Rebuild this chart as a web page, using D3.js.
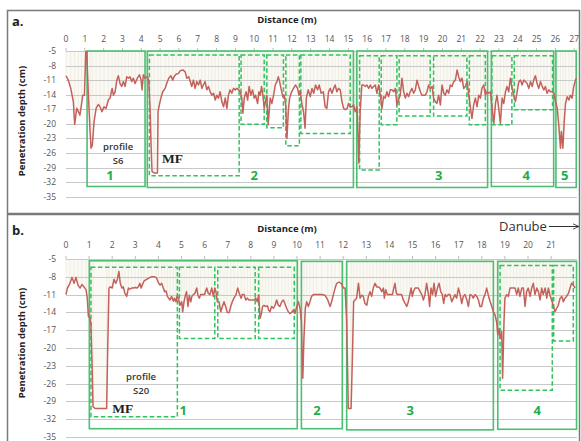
<html>
<script src="https://cdn.jsdelivr.net/npm/d3@7/dist/d3.min.js"></script>
<style>
  body { margin: 0; background: #fff; }
  text { font-family: "Open Sans", "Noto Sans", sans-serif; }
</style>
<svg id="chart" width="581" height="441"></svg>

<script>
// penetration depth (cm) against distance (m)
var profileS6 = [
  [0,-10.1],[0.12,-11.0],[0.25,-12.7],[0.39,-15.4],[0.46,-20.1],[0.57,-16.8],[0.66,-17.5],[0.74,-18.2],[0.82,-16.1],[0.89,-14.1],
  [0.98,-14.1],[1.05,-5.1],[1.10,-5.1],[1.19,-14.1],[1.28,-21.6],[1.33,-25.0],[1.40,-24.4],[1.49,-19.6],[1.60,-16.8],[1.72,-16.0],
  [1.81,-16.5],[1.91,-17.5],[2.02,-16.5],[2.13,-16.8],[2.25,-15.1],[2.34,-14.7],[2.45,-12.7],[2.52,-14.1],[2.61,-13.4],[2.70,-11.0],
  [2.78,-10.1],[2.87,-11.7],[2.96,-12.3],[3.05,-11.3],[3.14,-12.3],[3.23,-10.3],[3.32,-10.6],[3.40,-10.3],[3.49,-11.3],[3.58,-10.6],
  [3.67,-11.7],[3.79,-10.6],[3.90,-9.9],[3.99,-11.0],[4.04,-13.0],[4.11,-9.9],[4.20,-10.6],[4.33,-10.3],[4.40,-11.3],[4.47,-17.5],
  [4.52,-24.4],[4.57,-29.8],[4.68,-30.1],[4.86,-30.1],[4.89,-17.5],[4.96,-16.1],[5.04,-14.7],[5.14,-13.4],[5.27,-12.7],[5.35,-11.7],
  [5.46,-10.6],[5.57,-10.1],[5.67,-11.0],[5.74,-10.3],[5.85,-9.8],[5.98,-9.6],[6.06,-9.1],[6.21,-8.9],[6.33,-9.3],[6.42,-10.6],
  [6.52,-10.3],[6.60,-11.3],[6.68,-12.3],[6.77,-11.0],[6.86,-12.7],[6.95,-11.3],[7.04,-12.0],[7.13,-11.0],[7.22,-12.7],[7.30,-12.0],
  [7.39,-11.3],[7.48,-13.0],[7.57,-12.3],[7.66,-13.4],[7.75,-14.1],[7.84,-13.7],[7.93,-15.1],[8.01,-14.1],[8.10,-14.7],[8.19,-13.4],
  [8.28,-15.4],[8.37,-16.5],[8.46,-14.7],[8.55,-16.8],[8.63,-14.1],[8.72,-13.0],[8.81,-13.7],[8.90,-12.7],[8.99,-13.0],[9.08,-12.7],
  [9.17,-13.0],[9.26,-13.4],[9.34,-14.7],[9.40,-17.8],[9.47,-14.7],[9.57,-13.4],[9.65,-15.1],[9.73,-12.3],[9.82,-14.1],[9.91,-13.0],
  [10.00,-14.7],[10.07,-14.1],[10.18,-15.8],[10.25,-13.4],[10.32,-14.1],[10.39,-12.3],[10.46,-14.1],[10.53,-16.8],[10.60,-15.4],[10.67,-14.1],
  [10.74,-20.2],[10.85,-14.7],[10.94,-15.8],[11.03,-14.1],[11.12,-12.0],[11.21,-11.3],[11.28,-10.3],[11.35,-11.3],[11.42,-12.7],[11.52,-14.4],
  [11.60,-14.1],[11.67,-16.1],[11.74,-23.0],[11.81,-17.5],[11.88,-14.7],[11.99,-13.4],[12.09,-12.7],[12.20,-12.0],[12.30,-12.7],[12.38,-14.1],
  [12.45,-13.4],[12.54,-16.1],[12.62,-17.5],[12.70,-20.9],[12.77,-14.7],[12.87,-13.0],[12.98,-14.4],[13.07,-12.7],[13.16,-13.7],[13.26,-12.0],
  [13.37,-13.0],[13.45,-12.0],[13.56,-13.7],[13.67,-13.4],[13.77,-16.5],[13.86,-16.8],[13.95,-13.4],[14.04,-12.7],[14.13,-13.7],[14.22,-12.7],
  [14.30,-12.0],[14.39,-13.4],[14.48,-12.7],[14.57,-13.0],[14.66,-15.4],[14.75,-16.8],[14.84,-17.1],[14.94,-16.8],[15.01,-15.8],[15.10,-16.5],
  [15.19,-16.5],[15.28,-16.1],[15.37,-17.5],[15.46,-16.5],[15.51,-21.6],[15.56,-28.1],[15.63,-17.5],[15.72,-12.0],[15.81,-12.0],[15.90,-12.3],
  [15.99,-12.0],[16.08,-12.7],[16.17,-12.0],[16.25,-12.7],[16.34,-12.3],[16.43,-12.0],[16.52,-13.7],[16.61,-12.0],[16.70,-14.1],[16.79,-16.8],
  [16.87,-14.4],[16.96,-14.7],[17.05,-13.4],[17.14,-14.4],[17.23,-13.0],[17.32,-13.0],[17.41,-13.4],[17.50,-12.7],[17.58,-16.1],[17.67,-15.1],
  [17.76,-14.1],[17.85,-10.6],[17.94,-13.4],[18.03,-14.7],[18.12,-13.7],[18.20,-14.4],[18.29,-13.4],[18.38,-12.7],[18.47,-13.7],[18.56,-13.0],
  [18.65,-11.0],[18.74,-12.3],[18.83,-13.4],[18.91,-14.1],[19.00,-14.1],[19.09,-14.1],[19.18,-13.4],[19.27,-12.0],[19.36,-12.7],[19.45,-12.3],
  [19.53,-14.7],[19.62,-15.4],[19.71,-15.8],[19.80,-14.1],[19.89,-16.1],[19.98,-12.0],[20.07,-13.7],[20.15,-14.1],[20.24,-13.0],[20.33,-13.7],
  [20.42,-12.0],[20.51,-12.3],[20.60,-11.3],[20.69,-11.0],[20.78,-8.9],[20.86,-10.3],[20.95,-11.3],[21.04,-10.6],[21.13,-12.7],[21.22,-12.3],
  [21.31,-11.3],[21.40,-14.1],[21.48,-16.5],[21.57,-18.9],[21.66,-16.1],[21.75,-14.7],[21.84,-16.5],[21.93,-14.1],[22.02,-14.7],[22.10,-12.7],
  [22.19,-12.0],[22.28,-14.1],[22.37,-13.4],[22.46,-13.7],[22.55,-13.4],[22.64,-16.8],[22.73,-19.9],[22.82,-15.8],[22.90,-14.1],[22.99,-16.8],
  [23.08,-19.9],[23.17,-14.7],[23.26,-15.8],[23.35,-13.4],[23.43,-12.3],[23.52,-13.4],[23.61,-10.6],[23.70,-12.7],[23.79,-14.1],[23.88,-15.4],
  [23.97,-13.4],[24.06,-11.3],[24.15,-11.0],[24.23,-12.0],[24.32,-11.0],[24.41,-11.3],[24.50,-11.7],[24.59,-12.7],[24.68,-11.3],[24.77,-12.3],
  [24.85,-11.0],[24.94,-10.1],[25.03,-11.7],[25.12,-12.7],[25.21,-11.3],[25.30,-12.3],[25.39,-13.0],[25.47,-12.3],[25.56,-13.7],[25.65,-13.0],
  [25.74,-13.4],[25.83,-13.4],[25.92,-13.7],[26.01,-15.4],[26.10,-16.8],[26.18,-20.2],[26.27,-25.0],[26.32,-21.6],[26.40,-25.0],[26.47,-19.6],
  [26.54,-15.8],[26.63,-14.4],[26.72,-15.1],[26.80,-14.1],[26.89,-14.7],[26.98,-12.3],[27.07,-11.0],[27.13,-10.6]
];

var profileS20 = [
  [0,-11.0],[0.06,-9.9],[0.17,-9.1],[0.26,-8.1],[0.35,-9.1],[0.43,-8.1],[0.52,-9.4],[0.61,-9.9],[0.69,-9.3],[0.78,-9.7],
  [0.87,-10.2],[0.92,-11.6],[0.97,-14.7],[1.04,-15.0],[1.08,-16.1],[1.13,-22.9],[1.17,-29.9],[1.26,-30.2],[1.76,-30.2],[1.80,-21.2],
  [1.86,-9.9],[1.93,-9.7],[2.00,-9.9],[2.08,-8.4],[2.15,-9.1],[2.22,-8.5],[2.29,-7.1],[2.35,-9.1],[2.42,-9.9],[2.48,-9.7],
  [2.55,-10.8],[2.63,-11.3],[2.70,-9.9],[2.77,-10.1],[2.84,-9.9],[2.91,-9.9],[2.99,-9.8],[3.06,-9.9],[3.13,-9.7],[3.20,-9.1],
  [3.25,-9.9],[3.30,-9.4],[3.38,-8.7],[3.46,-8.5],[3.55,-8.3],[3.64,-8.1],[3.72,-8.0],[3.81,-8.0],[3.90,-8.1],[3.95,-8.5],
  [4.01,-9.1],[4.07,-9.4],[4.14,-9.1],[4.21,-9.9],[4.27,-10.5],[4.33,-10.4],[4.39,-11.3],[4.44,-11.6],[4.50,-11.9],[4.57,-11.3],
  [4.65,-12.1],[4.70,-11.6],[4.76,-12.2],[4.82,-11.1],[4.88,-11.9],[4.94,-12.8],[5.01,-12.2],[5.05,-13.9],[5.11,-12.2],[5.17,-11.1],
  [5.22,-10.5],[5.28,-13.0],[5.34,-11.1],[5.40,-12.2],[5.45,-11.3],[5.51,-11.0],[5.58,-10.8],[5.66,-9.9],[5.71,-11.1],[5.77,-11.6],
  [5.83,-11.0],[5.92,-11.0],[6.00,-11.0],[6.09,-9.9],[6.16,-10.8],[6.23,-11.0],[6.31,-9.9],[6.38,-11.3],[6.44,-9.9],[6.49,-10.5],
  [6.55,-12.2],[6.62,-12.2],[6.70,-13.9],[6.77,-13.0],[6.84,-12.2],[6.91,-13.0],[6.98,-14.0],[7.07,-14.0],[7.13,-13.0],[7.20,-12.2],
  [7.27,-11.6],[7.36,-11.0],[7.43,-9.9],[7.50,-10.8],[7.58,-11.6],[7.63,-11.0],[7.71,-11.0],[7.78,-11.9],[7.85,-11.6],[7.92,-11.9],
  [7.99,-11.9],[8.07,-11.9],[8.14,-11.9],[8.21,-11.6],[8.28,-12.2],[8.34,-11.1],[8.40,-15.0],[8.46,-14.2],[8.51,-13.0],[8.57,-12.8],
  [8.64,-13.0],[8.72,-12.9],[8.77,-13.6],[8.83,-13.9],[8.90,-13.0],[8.98,-13.3],[9.05,-12.8],[9.12,-11.9],[9.19,-12.8],[9.26,-13.0],
  [9.34,-12.2],[9.41,-11.9],[9.48,-12.6],[9.55,-13.3],[9.62,-13.9],[9.70,-14.2],[9.77,-14.0],[9.84,-13.6],[9.91,-14.2],[9.99,-13.0],
  [10.06,-12.2],[10.13,-13.3],[10.19,-15.6],[10.25,-25.1],[10.30,-18.4],[10.36,-13.3],[10.42,-12.2],[10.49,-13.0],[10.56,-12.2],[10.63,-11.3],
  [10.71,-11.0],[10.78,-11.0],[10.85,-11.0],[10.92,-11.0],[11.07,-11.0],[11.21,-11.1],[11.33,-11.9],[11.43,-13.0],[11.50,-12.2],[11.57,-11.1],
  [11.65,-9.9],[11.72,-9.1],[11.82,-8.9],[11.91,-9.1],[12.01,-9.9],[12.08,-9.9],[12.15,-15.6],[12.22,-30.2],[12.34,-30.2],[12.40,-21.2],
  [12.45,-12.2],[12.51,-11.9],[12.58,-11.6],[12.66,-9.1],[12.73,-11.6],[12.80,-11.1],[12.87,-11.3],[12.94,-12.5],[13.02,-12.8],[13.09,-11.3],
  [13.16,-10.5],[13.23,-11.3],[13.30,-9.9],[13.38,-9.1],[13.45,-9.7],[13.52,-9.7],[13.59,-9.9],[13.67,-10.5],[13.74,-9.9],[13.78,-11.6],
  [13.84,-10.2],[13.91,-11.0],[13.98,-11.0],[14.06,-11.0],[14.13,-11.0],[14.19,-9.9],[14.24,-9.1],[14.30,-10.8],[14.36,-11.0],[14.42,-11.0],
  [14.47,-11.0],[14.53,-11.0],[14.60,-11.9],[14.68,-12.5],[14.75,-13.0],[14.82,-12.2],[14.88,-11.0],[14.94,-9.9],[14.99,-11.3],[15.05,-10.4],
  [15.11,-9.9],[15.18,-9.9],[15.25,-9.9],[15.33,-10.5],[15.40,-11.0],[15.47,-11.9],[15.54,-11.0],[15.61,-9.1],[15.69,-11.0],[15.74,-13.0],
  [15.80,-9.9],[15.87,-11.0],[15.93,-9.1],[16.00,-11.3],[16.08,-9.9],[16.15,-9.1],[16.22,-10.5],[16.29,-11.0],[16.35,-12.5],[16.41,-11.0],
  [16.48,-11.3],[16.55,-11.0],[16.62,-11.0],[16.70,-12.2],[16.77,-11.6],[16.84,-11.0],[16.91,-11.6],[16.99,-9.9],[17.06,-11.0],[17.13,-12.5],
  [17.20,-11.3],[17.27,-11.0],[17.35,-11.9],[17.42,-13.0],[17.49,-11.0],[17.56,-11.1],[17.63,-11.6],[17.71,-11.0],[17.78,-11.3],[17.85,-11.9],
  [17.92,-13.0],[17.99,-13.0],[18.07,-11.6],[18.14,-11.0],[18.21,-9.9],[18.28,-11.1],[18.36,-12.2],[18.43,-13.0],[18.50,-13.9],[18.57,-14.4],
  [18.64,-15.6],[18.69,-17.8],[18.74,-16.7],[18.80,-18.4],[18.86,-17.2],[18.90,-25.1],[18.96,-15.6],[19.00,-11.6],[19.08,-11.0],[19.15,-11.3],
  [19.22,-9.9],[19.29,-9.9],[19.37,-9.9],[19.44,-9.9],[19.51,-11.0],[19.58,-9.9],[19.65,-11.3],[19.73,-9.9],[19.80,-9.9],[19.87,-13.0],
  [19.94,-10.5],[20.01,-9.9],[20.09,-11.3],[20.16,-9.9],[20.23,-9.1],[20.30,-11.0],[20.38,-9.9],[20.45,-10.5],[20.52,-11.9],[20.59,-9.9],
  [20.66,-11.0],[20.74,-9.9],[20.81,-11.6],[20.88,-9.9],[20.95,-11.1],[21.02,-11.9],[21.10,-13.0],[21.17,-13.9],[21.24,-13.3],[21.31,-12.8],
  [21.39,-11.6],[21.46,-11.3],[21.53,-12.2],[21.60,-11.6],[21.67,-11.3],[21.75,-10.8],[21.82,-9.9],[21.89,-9.1],[21.96,-9.4],[22.04,-9.9]
];

var depthTicks = [-5, -8, -11, -14, -17, -20, -23, -26, -29, -32, -35];
var distTicksA = d3.range(0, 28);
var distTicksB = d3.range(0, 22);

// zones [from m, to m, top cm, bottom cm]
var zonesA = [
  [1.12, 4.2, -5, -32.9], [4.32, 15.27, -5, -33.1], [15.45, 22.4, -5, -33.1],
  [22.6, 25.91, -5, -32.9], [26.03, 27.11, -5, -33.1]
];
var subZonesA = [
  [4.43, 9.2, -5.8, -30.7], [9.3, 10.53, -5.8, -20.1], [10.67, 11.55, -5.8, -20.8], [11.68, 12.4, -5.8, -24.5],
  [12.48, 15.1, -5.8, -22.0], [15.6, 16.64, -6.0, -29.5], [16.75, 17.58, -6.0, -20.2], [17.7, 19.35, -6.0, -18.4],
  [19.53, 21.3, -6.0, -18.4], [21.43, 22.28, -6.0, -20.2], [22.63, 23.69, -6.0, -20.2], [23.82, 25.85, -6.0, -17.1]
];
var zonesB = [
  [1.01, 10.01, -5.3, -33.6], [10.19, 11.96, -5.4, -33.6], [12.15, 18.5, -5.4, -33.8], [18.69, 22.1, -5.4, -33.7]
];
var subZonesB = [
  [1.08, 4.82, -6.4, -31.6], [4.91, 6.44, -6.4, -18.4], [6.57, 8.19, -6.4, -18.4], [8.34, 9.88, -6.4, -18.4],
  [18.79, 21.05, -6.1, -27.1], [21.11, 21.96, -6.1, -18.8]
];

var svg = d3.select("#chart");
var green = "#4cbf73", greenDash = "#2fc45c", labelGreen = "#1fae48";

// frames
svg.append("rect").attr("x", 7.5).attr("y", 10.5).attr("width", 572).attr("height", 203)
  .attr("fill", "none").attr("stroke", "#7a7a7a").attr("stroke-width", 1.5);
svg.append("rect").attr("x", 7.5).attr("y", 214.5).attr("width", 572).attr("height", 240)
  .attr("fill", "none").attr("stroke", "#7a7a7a").attr("stroke-width", 1.5);

function drawPanel(p) {
  var x = d3.scaleLinear().domain(p.xDomain).range([66, 577]);
  var y = d3.scaleLinear().domain([-5, -35]).range(p.yRange);
  var g = svg.append("g");

  // fill between the surface and the measured depth
  g.append("path").datum(p.data)
    .attr("d", d3.area().x(d => x(d[0])).y0(y(-5)).y1(d => y(d[1])))
    .attr("fill", "#faf9f4");
  g.selectAll(".stripe").data(p.data.filter((d, i) => i % 2 == 0)).enter().append("line")
    .attr("x1", d => x(d[0])).attr("x2", d => x(d[0]))
    .attr("y1", y(-5)).attr("y2", d => y(d[1]))
    .attr("stroke", "#e9e6da").attr("stroke-width", 0.6);

  // grid + y labels
  g.selectAll(".grid").data(depthTicks).enter().append("line")
    .attr("x1", 66).attr("x2", 577)
    .attr("y1", d => Math.round(y(d)) + 0.5).attr("y2", d => Math.round(y(d)) + 0.5)
    .attr("stroke", "#c8c8c8");
  g.selectAll(".ylab").data(depthTicks).enter().append("text")
    .attr("x", 56).attr("y", d => y(d) + 3)
    .attr("text-anchor", "end").attr("font-size", 8.5).attr("fill", "#555")
    .text(d => d);

  // top distance axis
  g.selectAll(".tick").data(p.ticks).enter().append("line")
    .attr("x1", d => x(d)).attr("x2", d => x(d))
    .attr("y1", y(-5) - 3).attr("y2", y(-5))
    .attr("stroke", "#bbb");
  g.selectAll(".xlab").data(p.ticks).enter().append("text")
    .attr("x", d => x(d)).attr("y", p.tickY)
    .attr("text-anchor", "middle").attr("font-size", 8.5).attr("fill", "#555")
    .text(d => d);

  g.append("text").attr("x", 287).attr("y", p.titleY)
    .attr("text-anchor", "middle").attr("font-size", 9.5).attr("font-weight", "bold").attr("fill", "#222")
    .text("Distance (m)");
  g.append("text").attr("x", 12).attr("y", p.titleY + 3)
    .attr("font-size", 13).attr("font-weight", "bold").attr("fill", "#222")
    .text(p.letter);
  g.append("text")
    .attr("transform", "translate(25," + p.yTitleMid + ") rotate(-90)")
    .attr("text-anchor", "middle").attr("font-size", 9.5).attr("font-weight", "bold").attr("fill", "#222")
    .text("Penetration depth (cm)");

  // zone boxes
  g.selectAll(".sub").data(p.subZones).enter().append("rect")
    .attr("x", d => x(d[0])).attr("y", d => y(d[2]))
    .attr("width", d => x(d[1]) - x(d[0])).attr("height", d => y(d[3]) - y(d[2]))
    .attr("fill", "none").attr("stroke", greenDash).attr("stroke-width", 1.5)
    .attr("stroke-dasharray", "4.5,2.5");
  g.selectAll(".zone").data(p.zones).enter().append("rect")
    .attr("x", d => x(d[0])).attr("y", d => y(d[2]))
    .attr("width", d => x(d[1]) - x(d[0])).attr("height", d => y(d[3]) - y(d[2]))
    .attr("fill", "none").attr("stroke", green).attr("stroke-width", 1.6);

  // measured profile
  g.append("path").datum(p.data)
    .attr("d", d3.line().x(d => x(d[0])).y(d => y(d[1])))
    .attr("fill", "none").attr("stroke", "#c4615a").attr("stroke-width", 1.5)
    .attr("stroke-linejoin", "round");

  // zone numbers
  g.selectAll(".znum").data(p.labels).enter().append("text")
    .attr("x", d => x(d[0])).attr("y", d => y(d[1]))
    .attr("text-anchor", "middle").attr("font-size", 13).attr("font-weight", "bold").attr("fill", labelGreen)
    .text(d => d[2]);

  g.append("text").attr("x", x(p.profileAt[0])).attr("y", y(p.profileAt[1]))
    .attr("text-anchor", "middle").attr("font-size", 9.5).attr("font-weight", 600).attr("fill", "#333")
    .text("profile");
  g.append("text").attr("x", x(p.profileAt[0])).attr("y", y(p.profileAt[1]) + 14)
    .attr("text-anchor", "middle").attr("font-size", 9.5).attr("font-weight", 600).attr("fill", "#333")
    .text(p.name);
  g.append("text").attr("x", x(p.mfAt[0])).attr("y", y(p.mfAt[1]))
    .style("font-family", "'Liberation Serif', 'DejaVu Serif', serif")
    .attr("font-size", 13.5).attr("font-weight", "bold").attr("fill", "#222")
    .text("MF");
  return x;
}

drawPanel({
  data: profileS6, xDomain: [0, 27.15], yRange: [51, 196.7], ticks: distTicksA,
  tickY: 42, titleY: 23, letter: "a.", yTitleMid: 121,
  zones: zonesA, subZones: subZonesA, name: "S6",
  labels: [[2.34, -31.5, "1"], [10.0, -31.5, "2"], [19.8, -31.5, "3"], [24.45, -31.5, "4"], [26.5, -31.5, "5"]],
  profileAt: [2.77, -25.3], mfAt: [5.1, -28.0]
});

drawPanel({
  data: profileS20, xDomain: [0, 22.12], yRange: [259, 437], ticks: distTicksB,
  tickY: 248, titleY: 232, letter: "b.", yTitleMid: 343,
  zones: zonesB, subZones: subZonesB, name: "S20",
  labels: [[5.07, -31.3, "1"], [10.86, -31.3, "2"], [14.9, -31.3, "3"], [20.4, -31.3, "4"]],
  profileAt: [3.25, -25.4], mfAt: [2.0, -31.0]
});

// river direction
svg.append("defs").append("marker").attr("id", "arr")
  .attr("viewBox", "0 0 10 10").attr("refX", 9).attr("refY", 5)
  .attr("markerWidth", 7).attr("markerHeight", 7).attr("orient", "auto")
  .append("path").attr("d", "M0,1 L9,5 L0,9").attr("fill", "none").attr("stroke", "#333").attr("stroke-width", 1.2);
svg.append("text").attr("x", 499).attr("y", 231)
  .attr("font-size", 13).attr("fill", "#333").text("Danube");
svg.append("line").attr("x1", 549).attr("x2", 579).attr("y1", 226.5).attr("y2", 226.5)
  .attr("stroke", "#333").attr("stroke-width", 1).attr("marker-end", "url(#arr)");
</script>
</html>
